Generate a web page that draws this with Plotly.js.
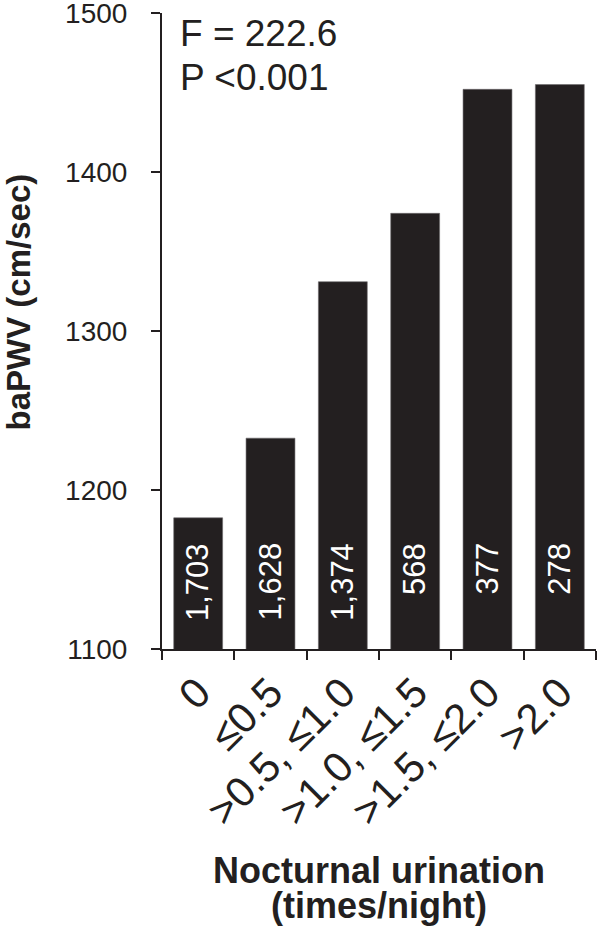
<!DOCTYPE html>
<html>
<head>
<meta charset="utf-8">
<script src="https://cdn.plot.ly/plotly-3.0.1.min.js"></script>
<style>html,body{margin:0;padding:0;background:#fff;}#chart{width:597px;height:932px;}</style>
</head>
<body>
<div id="chart"></div>
<script>
// Data
var categories = ['0', '≤0.5', '>0.5, ≤1.0', '>1.0, ≤1.5', '>1.5, ≤2.0', '>2.0'];
var baPWV = [1182.5, 1232.6, 1331, 1374, 1452, 1455];
var counts = ['1,703', '1,628', '1,374', '568', '377', '278'];
var yTicks = [1100, 1200, 1300, 1400, 1500];
var statLines = ['F = 222.6', 'P &lt;0.001'];

var FONT = 'Liberation Sans, Arial, Helvetica, sans-serif';
var INK = '#231f20';

var trace = {
  type: 'bar',
  x: categories,
  y: baPWV,
  marker: {color: INK, line: {color: '#6d6a6b', width: 0.6}},
  hoverinfo: 'skip'
};

var annotations = [];
categories.forEach(function (c, i) {
  annotations.push({
    x: c, xref: 'x', y: 1168, yref: 'y',
    text: counts[i], showarrow: false, textangle: -90,
    xanchor: 'center', yanchor: 'top',
    font: {family: FONT, size: 31, color: '#ffffff'}
  });
});
annotations.push({
  x: 0.037, xref: 'paper', y: 0.967, yref: 'paper', xanchor: 'left', yanchor: 'middle',
  text: statLines[0], showarrow: false, font: {family: FONT, size: 37, color: INK}
});
annotations.push({
  x: 0.037, xref: 'paper', y: 0.898, yref: 'paper', xanchor: 'left', yanchor: 'middle',
  text: statLines[1], showarrow: false, font: {family: FONT, size: 37, color: INK}
});
// axis titles
annotations.push({
  x: -0.330, xref: 'paper', y: 0.546, yref: 'paper', xanchor: 'center', yanchor: 'middle',
  text: '<b>baPWV (cm/sec)</b>', showarrow: false, textangle: -90,
  font: {family: FONT, size: 33, color: INK}
});
annotations.push({
  x: 0.5, xref: 'paper', y: -0.349, yref: 'paper', xanchor: 'center', yanchor: 'middle',
  text: '<b>Nocturnal urination</b>', showarrow: false,
  font: {family: FONT, size: 36, color: INK}
});
annotations.push({
  x: 0.5, xref: 'paper', y: -0.404, yref: 'paper', xanchor: 'center', yanchor: 'middle',
  text: '<b>(times/night)</b>', showarrow: false,
  font: {family: FONT, size: 36, color: INK}
});

var layout = {
  width: 597, height: 932,
  margin: {l: 162, r: 1, t: 13, b: 283},
  paper_bgcolor: '#ffffff', plot_bgcolor: '#ffffff',
  showlegend: false,
  bargap: 0.324,
  font: {family: FONT, color: INK},
  xaxis: {
    type: 'category',
    tickson: 'boundaries',
    ticks: 'outside', ticklen: 9, tickwidth: 2, tickcolor: INK,
    showline: true, linecolor: INK, linewidth: 2,
    showgrid: false, zeroline: false,
    tickangle: -45,
    tickfont: {family: FONT, size: 42, color: INK},
    fixedrange: true
  },
  yaxis: {
    range: [1100, 1500],
    tickvals: yTicks,
    ticktext: yTicks.map(String),
    ticks: 'outside', ticklen: 9, tickwidth: 2, tickcolor: INK,
    showline: true, linecolor: INK, linewidth: 2,
    showgrid: false, zeroline: false,
    tickfont: {family: FONT, size: 28, color: INK},
    ticklabelstandoff: 18,
    ticklabeloverflow: 'allow',
    fixedrange: true
  },
  annotations: annotations
};

Plotly.newPlot('chart', [trace], layout, {displayModeBar: false, staticPlot: true});
</script>
</body>
</html>
